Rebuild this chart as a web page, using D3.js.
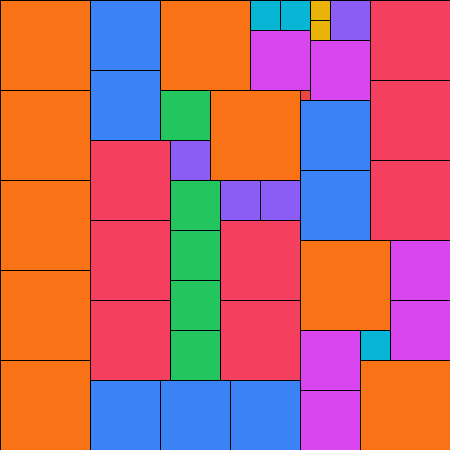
<!DOCTYPE html>
<html>
<head>
<meta charset="utf-8">
<script src="https://cdn.jsdelivr.net/npm/d3@7"></script>
<style>
  body { margin: 0; background: #fff; }
</style>
</head>
<body>
<div id="chart"></div>
<script>
// partridge packing, side 45 units, squares given as [col, row] in units
const sizes = [1, 2, 3, 4, 5, 6, 7, 8, 9];
const colors = ['#ef4444', '#eab308', '#06b6d4', '#8b5cf6', '#22c55e', '#d946ef', '#3b82f6', '#f43f5e', '#f97316'];

const squareCol = [30, 31, 31, 25, 28, 36, 33, 17, 22, 26, 16, 17, 17, 17, 17, 25, 31, 39, 39, 30, 30,
  9, 9, 30, 30, 9, 16, 23, 9, 9, 9, 37, 37, 37, 22, 22, 0, 0, 0, 0, 0, 16, 21, 30, 36];
const squareRow = [9, 0, 2, 0, 0, 33, 0, 14, 18, 18, 9, 18, 23, 28, 33, 3, 4, 24, 30, 33, 39,
  0, 7, 10, 17, 38, 38, 38, 14, 22, 30, 0, 8, 16, 22, 30, 0, 9, 18, 27, 36, 0, 9, 24, 36];
const squareSize = [1, 2, 2, 3, 3, 3, 4, 4, 4, 4, 5, 5, 5, 5, 5, 6, 6, 6, 6, 6, 6,
  7, 7, 7, 7, 7, 7, 7, 8, 8, 8, 8, 8, 8, 8, 8, 9, 9, 9, 9, 9, 9, 9, 9, 9];

const width = 450;
const height = 450;

const squares = squareSize.map((s, i) => ({ x: squareCol[i], y: squareRow[i], size: s }));

const xs = d3.scaleLinear().domain([0, 45]).range([0, width]);
const ys = d3.scaleLinear().domain([0, 45]).range([0, height]);
const color = d3.scaleOrdinal().domain(sizes).range(colors);

const svg = d3.select('#chart')
  .append('svg')
  .attr('width', width)
  .attr('height', height);

svg.selectAll('rect')
  .data(squares)
  .join('rect')
    .attr('x', d => xs(d.x) + 0.5)
    .attr('y', d => ys(d.y) + 0.5)
    .attr('width', d => xs(d.size))
    .attr('height', d => ys(d.size))
    .attr('fill', d => color(d.size))
    .attr('stroke', '#000')
    .attr('stroke-width', 1);
</script>
</body>
</html>
